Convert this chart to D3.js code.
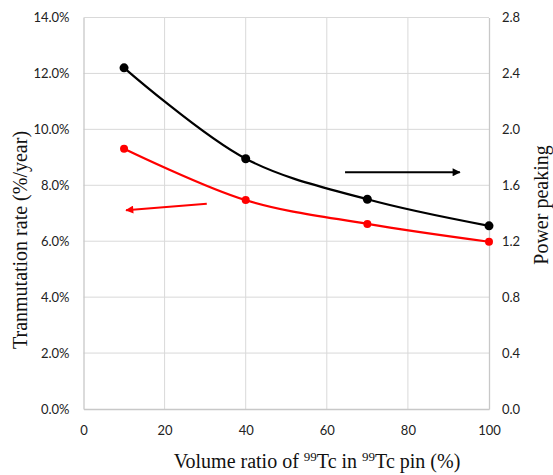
<!DOCTYPE html>
<html>
<head>
<meta charset="utf-8">
<script src="https://cdn.jsdelivr.net/npm/d3@7"></script>
<style>
  body { margin: 0; background: #fff; }
  .tick text { font-family: Lato, "Open Sans", sans-serif; font-size: 13px; fill: #222; }
  .title { font-family: "Liberation Serif", "Times New Roman", serif; font-size: 20px; fill: #111; }
</style>
</head>
<body>
<div id="chart"></div>
<script>
const volumeRatio = [10, 40, 70, 100];
const transmutationRate = [9.31, 7.47, 6.62, 5.98];
const powerPeaking = [2.44, 1.79, 1.50, 1.31];
const leftTicks = [0, 2, 4, 6, 8, 10, 12, 14];
const rightTicks = [0, 0.4, 0.8, 1.2, 1.6, 2.0, 2.4, 2.8];
const xTicks = [0, 20, 40, 60, 80, 100];
// annotation arrows, in data units: [x1, y1, x2, y2]
const redArrow = [30.4, 7.34, 10.5, 7.11];
const blackArrow = [64.5, 1.693, 92.8, 1.693];

const width = 553, height = 475;
const margin = { top: 17.5, right: 64, bottom: 66, left: 83.5 };

const svg = d3.select('#chart').append('svg').attr('width', width).attr('height', height);

const x = d3.scaleLinear().domain([0, 100]).range([margin.left, width - margin.right]);
const yL = d3.scaleLinear().domain([0, 14]).range([height - margin.bottom, margin.top]);
const yR = d3.scaleLinear().domain([0, 2.8]).range([height - margin.bottom, margin.top]);

// grid
svg.append('g')
  .selectAll('line')
  .data(leftTicks.slice(1))
  .enter()
  .append('line')
  .attr('x1', x(0)).attr('x2', x(100))
  .attr('y1', d => yL(d)).attr('y2', d => yL(d))
  .attr('stroke', '#d9d9d9').attr('stroke-width', 1);
svg.append('g')
  .selectAll('line')
  .data(xTicks.slice(1, -1))
  .enter()
  .append('line')
  .attr('y1', yL(0)).attr('y2', yL(14))
  .attr('x1', d => x(d)).attr('x2', d => x(d))
  .attr('stroke', '#d9d9d9').attr('stroke-width', 1);

// axes
const gx = svg.append('g').attr('transform', `translate(0,${yL(0)})`)
  .call(d3.axisBottom(x).tickValues(xTicks).tickSize(0).tickPadding(17));
const gl = svg.append('g').attr('transform', `translate(${x(0)},0)`)
  .call(d3.axisLeft(yL).tickValues(leftTicks).tickSize(0).tickPadding(14).tickFormat(d => d.toFixed(1) + '%'));
const gr = svg.append('g').attr('transform', `translate(${x(100)},0)`)
  .call(d3.axisRight(yR).tickValues(rightTicks).tickSize(0).tickPadding(13).tickFormat(d3.format('.1f')));
[gx, gl, gr].forEach(g => g.select('.domain').attr('stroke', '#c8c8c8').attr('stroke-width', 1.3));

// lines
const curve = d3.curveCatmullRom.alpha(0.5);
const lineL = d3.line().x((d, i) => x(volumeRatio[i])).y(d => yL(d)).curve(curve);
const lineR = d3.line().x((d, i) => x(volumeRatio[i])).y(d => yR(d)).curve(curve);

svg.append('path').datum(powerPeaking).attr('d', lineR)
  .attr('fill', 'none').attr('stroke', '#000').attr('stroke-width', 2.2);
svg.append('g').selectAll('circle').data(powerPeaking).enter().append('circle')
  .attr('cx', (d, i) => x(volumeRatio[i])).attr('cy', d => yR(d)).attr('r', 4.5).attr('fill', '#000');

svg.append('path').datum(transmutationRate).attr('d', lineL)
  .attr('fill', 'none').attr('stroke', '#ff0000').attr('stroke-width', 2.2);
svg.append('g').selectAll('circle').data(transmutationRate).enter().append('circle')
  .attr('cx', (d, i) => x(volumeRatio[i])).attr('cy', d => yL(d)).attr('r', 4).attr('fill', '#ff0000');

// arrows
const defs = svg.append('defs');
[['arrRed', '#ff0000'], ['arrBlack', '#000']].forEach(([id, c]) => {
  defs.append('marker').attr('id', id).attr('viewBox', '0 0 10 10')
    .attr('refX', 9).attr('refY', 5).attr('markerWidth', 4.5).attr('markerHeight', 4)
    .attr('orient', 'auto').attr('markerUnits', 'strokeWidth')
    .append('path').attr('d', 'M0,0L10,5L0,10z').attr('fill', c);
});
svg.append('line')
  .attr('x1', x(redArrow[0])).attr('y1', yL(redArrow[1]))
  .attr('x2', x(redArrow[2])).attr('y2', yL(redArrow[3]))
  .attr('stroke', '#ff0000').attr('stroke-width', 2).attr('marker-end', 'url(#arrRed)');
svg.append('line')
  .attr('x1', x(blackArrow[0])).attr('y1', yR(blackArrow[1]))
  .attr('x2', x(blackArrow[2])).attr('y2', yR(blackArrow[3]))
  .attr('stroke', '#000').attr('stroke-width', 2).attr('marker-end', 'url(#arrBlack)');

// titles
svg.append('text').attr('class', 'title')
  .attr('transform', `translate(27,240) rotate(-90)`).attr('text-anchor', 'middle')
  .text('Tranmutation rate (%/year)');
svg.append('text').attr('class', 'title')
  .attr('transform', `translate(548,205) rotate(-90)`).attr('text-anchor', 'middle')
  .text('Power peaking');
const xt = svg.append('text').attr('class', 'title')
  .attr('x', 317).attr('y', 468).attr('text-anchor', 'middle');
xt.append('tspan').text('Volume ratio of ');
xt.append('tspan').attr('font-size', 13).attr('dy', -7).text('99');
xt.append('tspan').attr('dy', 7).text('Tc in ');
xt.append('tspan').attr('font-size', 13).attr('dy', -7).text('99');
xt.append('tspan').attr('dy', 7).text('Tc pin (%)');
</script>
</body>
</html>
